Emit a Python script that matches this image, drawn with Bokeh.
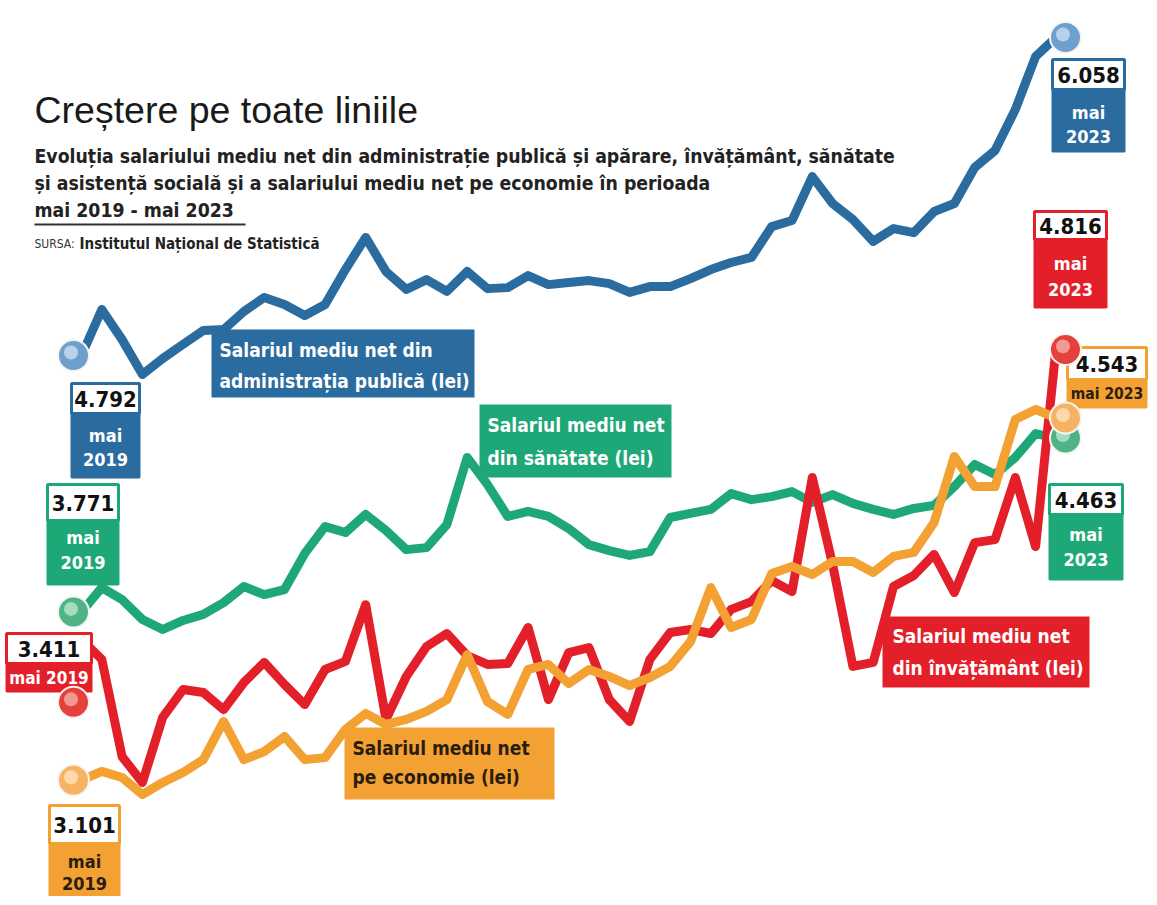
from bokeh.plotting import figure
from bokeh.models import Range1d
from bokeh.core.properties import value
from bokeh.embed import file_html
from bokeh.resources import INLINE

# ---------------- data (lei, monthly, mai 2019 - mai 2023) ----------------
ro_months = ["ian", "feb", "mar", "apr", "mai", "iun", "iul", "aug", "sep", "oct", "noi", "dec"]
months = [f"{ro_months[(4 + k) % 12]} {2019 + (4 + k) // 12}" for k in range(49)]

admin = [4792, 4975, 4855, 4716, 4780, 4836, 4891, 4895, 4967, 5023, 4995, 4951, 4995, 5134,
         5262, 5126, 5055, 5094, 5047, 5126, 5058, 5062, 5110, 5074, 5082, 5090, 5078, 5043,
         5066, 5066, 5098, 5134, 5162, 5182, 5305, 5329, 5504, 5397, 5333, 5246, 5297, 5281,
         5365, 5397, 5540, 5608, 5771, 5982, 6058]
health = [3771, 3868, 3820, 3741, 3701, 3737, 3761, 3808, 3872, 3840, 3860, 4004, 4111, 4087,
          4159, 4095, 4019, 4027, 4119, 4386, 4278, 4151, 4171, 4151, 4103, 4039, 4015, 3996,
          4011, 4147, 4163, 4179, 4242, 4218, 4230, 4250, 4207, 4238, 4203, 4179, 4159, 4183,
          4195, 4270, 4358, 4318, 4386, 4481, 4463]
education = [3661, 3582, 3195, 3092, 3351, 3462, 3450, 3382, 3490, 3570, 3482, 3402, 3542, 3574,
             3800, 3343, 3514, 3633, 3685, 3597, 3562, 3566, 3709, 3422, 3609, 3629, 3422, 3335,
             3582, 3689, 3701, 3685, 3781, 3812, 3896, 3852, 4306, 3960, 3554, 3570, 3872, 3916,
             4000, 3848, 4047, 4059, 4306, 4031, 4816]
economy = [3101, 3136, 3112, 3044, 3092, 3132, 3183, 3335, 3183, 3215, 3275, 3183, 3191, 3303,
           3367, 3323, 3343, 3375, 3422, 3601, 3414, 3363, 3542, 3562, 3486, 3542, 3514, 3478,
           3510, 3554, 3653, 3868, 3709, 3741, 3924, 3952, 3920, 3972, 3972, 3928, 3992, 4008,
           4127, 4390, 4270, 4270, 4537, 4577, 4543]

series_names = ["admin", "health", "education", "economy"]
start_values = [4792, 3771, 3411, 3101]
end_values = [6058, 4463, 4816, 4543]
start_dates = ["mai 2019", "mai 2019", "mai 2019", "mai 2019"]
end_dates = ["mai 2023", "mai 2023", "mai 2023", "mai 2023"]
series_labels = [
    ["Salariul mediu net din", "administrația publică (lei)"],
    ["Salariul mediu net", "din sănătate (lei)"],
    ["Salariul mediu net", "din învățământ (lei)"],
    ["Salariul mediu net", "pe economie (lei)"],
]

# ---------------- styling / layout ----------------
OFF = 1
W, H = 1148, 896
COLORS = ["#2a6c9f", "#1ea877", "#e3202a", "#f4a133"]
DOT_MAIN = ["#6f9fcc", "#4fb385", "#e5403c", "#f7b363"]
DOT_HI = ["#c4dbef", "#b5e3cb", "#f6a9a3", "#fde0b5"]
TXT_ON = ["white", "white", "white", "#2a1d10"]
NARROW = value("'DejaVu Sans Condensed', 'Roboto', sans-serif")

X0_PX, XSTEP_PX = 82.0, 20.3
YA, YB = 1559.7, 0.2512


def X(px):
    return (px - X0_PX) / XSTEP_PX


def Y(py):
    return (YA - py) / YB


p = figure(width=W, height=H, output_backend="svg", toolbar_location=None,
           x_range=Range1d(X(OFF), X(OFF + W)), y_range=Range1d(Y(OFF + H), Y(OFF)),
           min_border=0)
p.axis.visible = False
p.grid.visible = False
p.outline_line_color = None
p.background_fill_color = "white"
p.border_fill_color = "white"

xs = list(range(len(months)))
all_series = [admin, health, education, economy]

# lines
for s, c in zip(all_series, COLORS):
    p.line(xs, s, line_color=c, line_width=9, line_join="round", line_cap="round")

# series label boxes (pixel positions of the infographic)
label_boxes = [
    (212, 475, 330, 398, 220, [350, 381]),
    (480, 672, 405, 478, 488, [425, 458]),
    (883, 1090, 617, 688, 893, [636, 668]),
    (345, 555, 728, 800, 353, [748, 777]),
]
for i, (l, r, t, b, tx, tys) in enumerate(label_boxes):
    p.quad(left=[X(l)], right=[X(r)], top=[Y(t)], bottom=[Y(b)],
           fill_color=COLORS[i], line_color=None)
    for line_txt, ty in zip(series_labels[i], tys):
        p.text(x=[X(tx)], y=[Y(ty)], text=[line_txt], text_color=TXT_ON[i],
               text_font=NARROW, text_font_style="bold", text_font_size="19px",
               text_baseline="middle", text_align="left")


def fmt(v):
    return f"{v:,}".replace(",", ".")


# value boxes: (left, right, white_top, split, bottom, num_y, date_lines_y, date_size)
start_boxes = [
    (72, 140, 384, 414, 478, 399, [436, 460], "18px"),
    (48, 119, 485, 521, 585, 503, [538, 563], "18px"),
    (7, 92, 634, 664, 692, 649, [678], "17px"),
    (50, 120, 806, 844, 900, 825, [862, 884], "18px"),
]
end_boxes = [
    (1053, 1125, 60, 90, 152, 75, [113, 137], "18px"),
    (1050, 1123, 485, 515, 580, 500, [535, 560], "18px"),
    (1035, 1107, 212, 240, 308, 226, [264, 290], "18px"),
    (1068, 1147, 348, 380, 408, 364, [394], "15.5px"),
]


def value_box(i, box, val, date):
    l, r, t, m, b, ny, dys, dsize = box
    p.quad(left=[X(l)], right=[X(r)], top=[Y(m)], bottom=[Y(b)],
           fill_color=COLORS[i], line_color=COLORS[i], line_width=2)
    p.quad(left=[X(l)], right=[X(r)], top=[Y(t)], bottom=[Y(m)],
           fill_color="white", line_color=COLORS[i], line_width=3)
    cx = X((l + r) / 2)
    p.text(x=[cx], y=[Y(ny)], text=[fmt(val)], text_color="#111111",
           text_font=NARROW, text_font_style="bold", text_font_size="22px",
           text_baseline="middle", text_align="center")
    parts = [date] if len(dys) == 1 else date.split(" ")
    for part, dyy in zip(parts, dys):
        p.text(x=[cx], y=[Y(dyy)], text=[part], text_color=TXT_ON[i],
               text_font=NARROW, text_font_style="bold", text_font_size=dsize,
               text_baseline="middle", text_align="center")


for i in range(4):
    value_box(i, start_boxes[i], start_values[i], start_dates[i])
    value_box(i, end_boxes[i], end_values[i], end_dates[i])

# dots at the first / last values
dot_start_x = X(74)
dot_end_x = X(1066)
for i in range(4):
    for dx_, v in ((dot_start_x, start_values[i]), (dot_end_x, end_values[i])):
        p.scatter([dx_], [v], size=31, fill_color=DOT_MAIN[i], line_color="#f4f4f4",
                  line_width=2)
        p.scatter([dx_ - 2.5 / XSTEP_PX], [v + 3 / YB], size=14, fill_color=DOT_HI[i],
                  line_color=None, fill_alpha=0.85)

# titles
p.text(x=[X(35)], y=[Y(110)], text=["Creștere pe toate liniile"], text_color="#1a1a1a",
       text_font=value("Liberation Sans"), text_font_size="37.5px",
       text_baseline="middle", text_align="left")
subtitle = [
    "Evoluția salariului mediu net din administrație publică și apărare, învățământ, sănătate",
    "și asistență socială și a salariului mediu net pe economie în perioada",
    "mai 2019 - mai 2023",
]
for line_txt, ty in zip(subtitle, [157, 184, 211]):
    p.text(x=[X(35)], y=[Y(ty)], text=[line_txt], text_color="#222222",
           text_font=NARROW, text_font_style="bold", text_font_size="19.3px",
           text_baseline="middle", text_align="left")
p.segment(x0=[X(35)], y0=[Y(225)], x1=[X(246)], y1=[Y(225)], line_color="#333333",
          line_width=2)
p.text(x=[X(35)], y=[Y(244)], text=["SURSA:"], text_color="#333333",
       text_font=NARROW, text_font_size="12px", text_baseline="middle", text_align="left")
p.text(x=[X(80)], y=[Y(244)], text=["Institutul Național de Statistică"], text_color="#222222",
       text_font=NARROW, text_font_style="bold", text_font_size="15px",
       text_baseline="middle", text_align="left")

open("out.html", "w").write(file_html(p, INLINE))
